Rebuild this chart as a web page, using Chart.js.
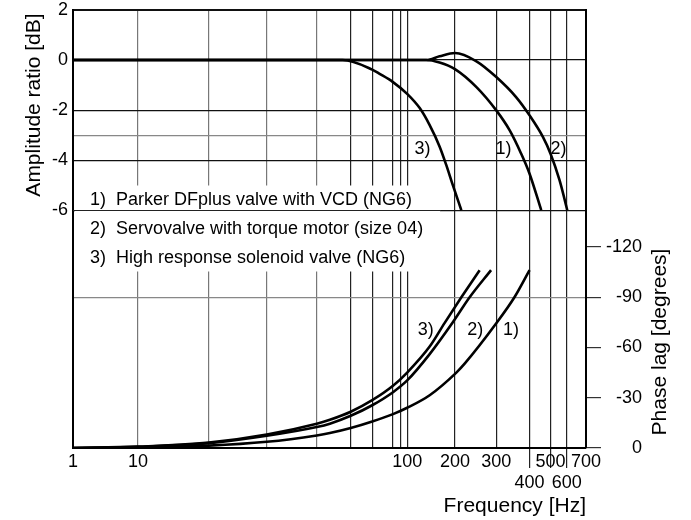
<!DOCTYPE html>
<html>
<head>
<meta charset="utf-8">
<script src="https://cdn.jsdelivr.net/npm/chart.js@4.4.1/dist/chart.umd.min.js"></script>
<style>
  html, body { margin: 0; padding: 0; background: #fff; }
  canvas { display: block; }
</style>
</head>
<body>
<canvas id="chart" width="691" height="520"></canvas>
<script>
// --- data ---
const seriesNames = [
  '1)  Parker DFplus valve with VCD (NG6)',
  '2)  Servovalve with torque motor (size 04)',
  '3)  High response solenoid valve (NG6)'
];

// amplitude ratio [dB]
const ampHz1 = [1, 20, 50, 100, 132, 160, 200, 247, 300, 336.5, 372, 400, 453];
const amp1   = [0, 0, 0, 0, 0, -0.1, -0.36, -1.08, -2.01, -2.8, -3.74, -4.54, -6];
const ampHz2 = [1, 20, 50, 100, 132, 160, 200, 247, 300, 356, 400, 461, 500, 553, 600, 602];
const amp2   = [0, 0, 0, 0, 0, 0.15, 0.28, -0.05, -0.68, -1.48, -2.21, -3.07, -3.74, -4.8, -5.93, -6];
const ampHz3 = [1, 20, 40, 47.4, 60, 63.4, 70, 100, 120, 138.6, 160, 176.5, 194, 213];
const amp3   = [0, 0, 0, 0, -0.38, -0.55, -0.88, -1.35, -1.92, -2.6, -3.45, -4.2, -5.0, -6];

// phase lag [degrees]
const phHz1 = [1, 10, 20, 30, 40, 43.6, 50, 60, 70, 100, 138.6, 202.8, 220, 300, 351, 400];
const ph1   = [0, -0.4, -1.4, -3.7, -7.5, -8.9, -11.9, -15.8, -20.2, -24, -31.5, -45, -50.3, -74.4, -89.9, -106.1];
const phHz2 = [1, 10, 20, 30, 40, 43.6, 50, 60, 70, 100, 138.6, 194, 231, 285];
const ph2   = [0, -0.7, -2.9, -7.3, -12.5, -14.5, -19.2, -25.5, -33.3, -40.3, -56, -75, -89.9, -106.1];
const phHz3 = [1, 10, 20, 30, 40, 43.6, 50, 60, 70, 100, 138.6, 172, 213, 254.8];
const ph3   = [0, -0.8, -3.2, -8, -14.5, -16.8, -21.6, -28.5, -37.1, -45, -60.5, -74.5, -89.9, -106.1];

// axis ticks
const xTickValues = [1, 10, 20, 30, 40, 50, 60, 70, 80, 100, 200, 300, 400, 500, 600, 700];
const xTickLabels = ['1', '10', '', '', '', '', '', '', '', '100', '200', '300', '400', '500', '600', '700'];
const xLowerRow = [400, 600];
const dbTicks = [2, 0, -2, -3, -4, -6];
const dbLabels = ['2', '0', '-2', '', '-4', '-6'];
const phaseTicks = [0, -30, -60, -90, -120];

// curve tags: [Hz, value, text]
const ampTags = [[125, -3.56, '3)'], [319, -3.56, '1)'], [546, -3.56, '2)']];
const phaseTags = [[131, -70.4, '3)'], [244, -70.4, '2)'], [341, -70.4, '1)']];

// --- frequency axis of the original drawing is not a clean log scale ---
const stopHz = [1, 10, 20, 30, 40, 50, 60, 70, 80, 100, 200, 300, 400, 500, 600, 700];
const stopAt = [0, 65, 136, 194, 244, 278, 299.5, 320.3, 327.7, 334.5, 382.3, 423.7, 457, 478, 494.3, 513.5]
  .map(p => p / 513.5);

function warp(v) {
  const lv = Math.log10(v);
  let i = 0;
  while (i < stopHz.length - 2 && lv > Math.log10(stopHz[i + 1])) i++;
  const l0 = Math.log10(stopHz[i]), l1 = Math.log10(stopHz[i + 1]);
  return stopAt[i] + (stopAt[i + 1] - stopAt[i]) * (lv - l0) / (l1 - l0);
}
function unwarp(d) {
  let i = 0;
  while (i < stopAt.length - 2 && d > stopAt[i + 1]) i++;
  const l0 = Math.log10(stopHz[i]), l1 = Math.log10(stopHz[i + 1]);
  return Math.pow(10, l0 + (l1 - l0) * (d - stopAt[i]) / (stopAt[i + 1] - stopAt[i]));
}

class BodeScale extends Chart.LinearScale {
  getPixelForValue(v) { return this.getPixelForDecimal(warp(v)); }
  getValueForPixel(p) { return unwarp(this.getDecimalForPixel(p)); }
}
BodeScale.id = 'bode';
BodeScale.defaults = Chart.LinearScale.defaults;
Chart.register(BodeScale);

const FONT = '"Liberation Sans", Arial, Helvetica, sans-serif';
Chart.defaults.font.family = FONT;
Chart.defaults.color = '#000';

const pts = (xs, ys) => xs.map((x, i) => ({ x: x, y: ys[i] }));

const overlay = {
  id: 'overlay',
  beforeDatasetsDraw(chart) {
    const { ctx, chartArea: a, scales } = chart;
    const y6 = Math.round(scales.db.getPixelForValue(-6)) + 0.5;
    ctx.save();
    // the legend block cuts the left gridlines
    ctx.fillStyle = '#fff';
    ctx.fillRect(a.left + 2, y6 - 25, 440 - a.left - 2, 86);
    ctx.strokeStyle = '#222';
    ctx.lineWidth = 1.2;
    ctx.beginPath();
    ctx.moveTo(a.left, y6);
    ctx.lineTo(441, y6);
    ctx.stroke();
    ctx.fillStyle = '#000';
    ctx.font = '18px ' + FONT;
    ctx.textBaseline = 'middle';
    ctx.textAlign = 'left';
    seriesNames.forEach((n, i) => ctx.fillText(n, a.left + 17, y6 - 10 + i * 28.7));
    ctx.restore();
  },
  afterDraw(chart) {
    const { ctx, chartArea: a, scales } = chart;
    ctx.save();
    ctx.fillStyle = '#000';
    ctx.font = '18px ' + FONT;
    ctx.textAlign = 'center';
    ctx.textBaseline = 'middle';
    ampTags.forEach(t => ctx.fillText(t[2], scales.x.getPixelForValue(t[0]), scales.db.getPixelForValue(t[1])));
    phaseTags.forEach(t => ctx.fillText(t[2], scales.x.getPixelForValue(t[0]), scales.phase.getPixelForValue(t[1])));

    ctx.font = '21px ' + FONT;
    ctx.save();
    ctx.translate(34, a.top + 95);
    ctx.rotate(-Math.PI / 2);
    ctx.fillText('Amplitude ratio [dB]', 0, 0);
    ctx.restore();
    ctx.save();
    ctx.translate(660, 342);
    ctx.rotate(-Math.PI / 2);
    ctx.fillText('Phase lag [degrees]', 0, 0);
    ctx.restore();
    ctx.restore();
  }
};

const line = (label, data, axis) => ({
  label: label,
  data: data,
  yAxisID: axis,
  borderColor: '#000',
  borderWidth: 2.6,
  pointRadius: 0,
  fill: false,
  cubicInterpolationMode: 'monotone'
});

new Chart(document.getElementById('chart'), {
  type: 'line',
  data: {
    datasets: [
      line(seriesNames[0], pts(ampHz1, amp1), 'db'),
      line(seriesNames[1], pts(ampHz2, amp2), 'db'),
      line(seriesNames[2], pts(ampHz3, amp3), 'db'),
      line(seriesNames[0], pts(phHz1, ph1), 'phase'),
      line(seriesNames[1], pts(phHz2, ph2), 'phase'),
      line(seriesNames[2], pts(phHz3, ph3), 'phase')
    ]
  },
  options: {
    responsive: false,
    animation: false,
    devicePixelRatio: 1,
    layout: { padding: { top: 10, left: 0, right: 49, bottom: 0 } },
    plugins: { legend: { display: false }, tooltip: { enabled: false } },
    scales: {
      x: {
        type: 'bode',
        min: 1,
        max: 700,
        afterBuildTicks: s => { s.ticks = xTickValues.map(v => ({ value: v })); },
        afterFit: s => { s.height = 72; s.paddingLeft = 0; s.paddingRight = 0; },
        ticks: {
          autoSkip: false,
          maxRotation: 0,
          minRotation: 0,
          padding: -17,
          font: { size: 18 },
          callback: v => {
            const lab = xTickLabels[xTickValues.indexOf(v)];
            return xLowerRow.includes(v) ? ['', lab] : lab;
          }
        },
        grid: {
          drawTicks: true,
          tickLength: 20,
          lineWidth: 1.2,
          color: c => {
            const v = c.tick ? c.tick.value : 0;
            if (v === 1 || v === 700) return 'rgba(0,0,0,0)';
            return v < 50 ? '#777' : '#222';
          },
          tickColor: c => (c.tick && [400, 500, 600].includes(c.tick.value)) ? '#222' : 'rgba(0,0,0,0)'
        },
        border: { display: true, color: '#000', width: 2 },
        title: {
          display: true,
          text: 'Frequency [Hz]',
          align: 'end',
          font: { size: 21 },
          padding: { top: 0, bottom: 1 }
        }
      },
      db: {
        position: 'left',
        min: -15.5,
        max: 2,
        afterBuildTicks: s => { s.ticks = dbTicks.map(v => ({ value: v })); },
        afterFit: s => { s.width = 73; s.paddingTop = 0; s.paddingBottom = 0; },
        ticks: {
          padding: 5,
          font: { size: 18 },
          callback: v => dbLabels[dbTicks.indexOf(v)]
        },
        grid: {
          drawTicks: false,
          color: c => {
            const v = c.tick ? c.tick.value : 0;
            if (v === -3) return '#888';
            return '#111';
          },
          lineWidth: c => (c.tick && c.tick.value === 2) ? 2 : 1.2
        },
        border: { display: true, color: '#000', width: 2 }
      },
      phase: {
        position: 'right',
        reverse: true,
        min: -261.3,
        max: 0,
        afterBuildTicks: s => { s.ticks = phaseTicks.map(v => ({ value: v })); },
        afterFit: s => { s.width = 56; s.paddingTop = 0; s.paddingBottom = 0; },
        ticks: {
          padding: 5,
          crossAlign: 'far',
          font: { size: 18 },
          callback: v => String(v)
        },
        grid: {
          drawTicks: true,
          tickLength: 15,
          lineWidth: 1.2,
          color: c => (c.tick && c.tick.value === -90) ? '#888' : 'rgba(0,0,0,0)',
          tickColor: '#333'
        },
        border: { display: true, color: '#000', width: 2 }
      }
    }
  },
  plugins: [overlay]
});
</script>
</body>
</html>
